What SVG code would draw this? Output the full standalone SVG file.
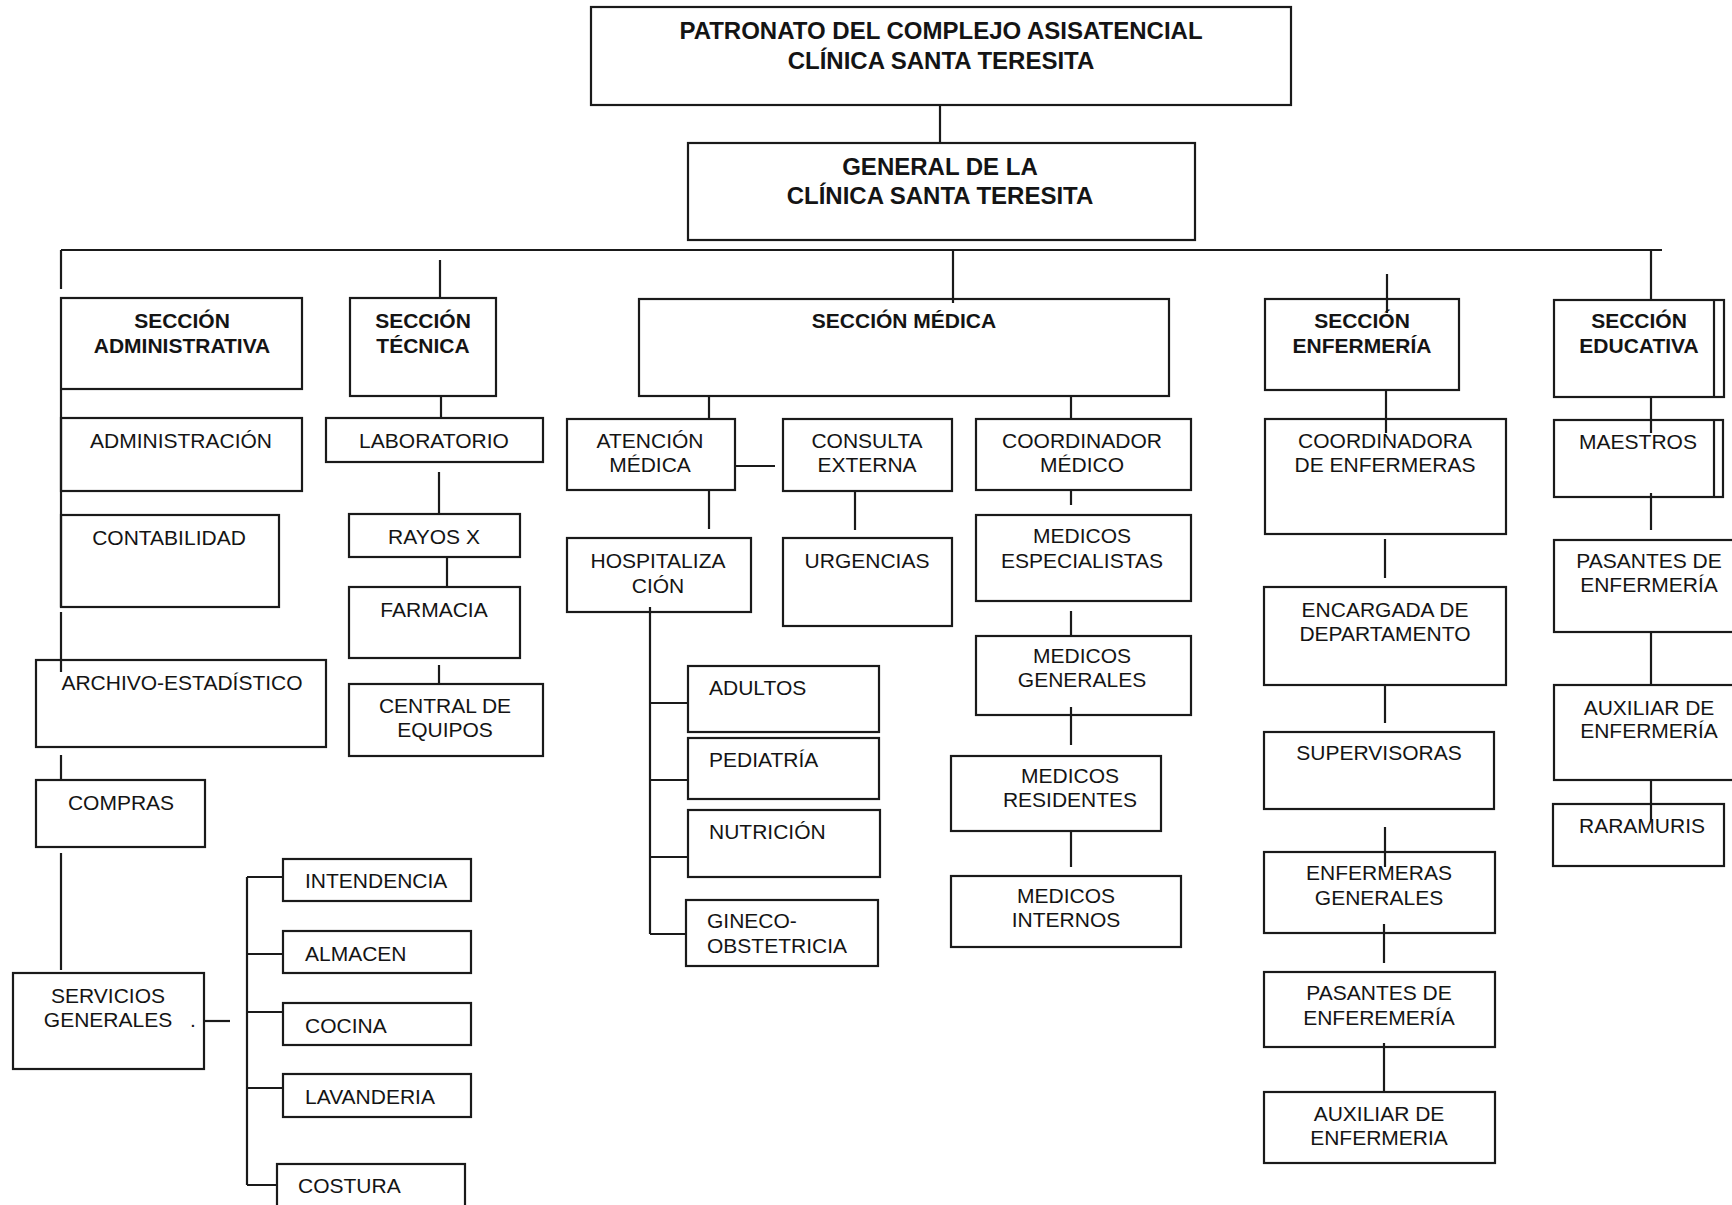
<svg xmlns="http://www.w3.org/2000/svg" width="1732" height="1205" viewBox="0 0 1732 1205">
<style>
  .bx{fill:none;stroke:#1a1a1a;stroke-width:2.2}
  .ln{fill:none;stroke:#1a1a1a;stroke-width:2.2}
  text{font-family:"Liberation Sans",Arial,sans-serif;fill:#141414}
  .t{font-size:21px;text-anchor:middle}
  .l{font-size:21px;text-anchor:start}
  .b{font-size:21px;font-weight:bold;text-anchor:middle}
  .h{font-size:24px;font-weight:bold;text-anchor:middle}
</style>
<rect width="1732" height="1205" fill="#ffffff"/>

<g id="connectors">
  <path class="ln" d="M940 105V143"/>
  <path class="ln" d="M61 250H1662"/>
  <path class="ln" d="M61 250V289"/>
  <path class="ln" d="M440 260V298"/>
  <path class="ln" d="M953 250V303"/>
  <path class="ln" d="M1387 274V313"/>
  <path class="ln" d="M1651 250V300"/>
  <!-- admin column -->
  <path class="ln" d="M61 390V607"/>
  <path class="ln" d="M61 612V672"/>
  <path class="ln" d="M61 755V780"/>
  <path class="ln" d="M61 853V970"/>
  <path class="ln" d="M204 1021H230"/>
  <path class="ln" d="M247 877V1185"/>
  <path class="ln" d="M247 877H283M247 954H283M247 1012H283M247 1088H283M247 1185H277"/>
  <!-- tecnica -->
  <path class="ln" d="M441 397V418"/>
  <path class="ln" d="M439 472V514"/>
  <path class="ln" d="M447 557V587"/>
  <path class="ln" d="M439 665V684"/>
  <!-- medica -->
  <path class="ln" d="M709 397V419"/>
  <path class="ln" d="M1071 397V419"/>
  <path class="ln" d="M735 466H775"/>
  <path class="ln" d="M855 491V530"/>
  <path class="ln" d="M709 490V529"/>
  <path class="ln" d="M650 607V934"/>
  <path class="ln" d="M650 703H688M650 780H688M650 857H688M650 934H686"/>
  <path class="ln" d="M1071 490V505"/>
  <path class="ln" d="M1071 611V635"/>
  <path class="ln" d="M1071 707V745"/>
  <path class="ln" d="M1071 831V867"/>
  <!-- enfermeria -->
  <path class="ln" d="M1386 390V433"/>
  <path class="ln" d="M1385 539V578"/>
  <path class="ln" d="M1385 685V723"/>
  <path class="ln" d="M1385 827V867"/>
  <path class="ln" d="M1384 924V963"/>
  <path class="ln" d="M1384 1043V1092"/>
  <!-- educativa -->
  <path class="ln" d="M1651 397V433"/>
  <path class="ln" d="M1651 493V530"/>
  <path class="ln" d="M1651 632V685"/>
  <path class="ln" d="M1651 780V820"/>
</g>

<g id="patronato"><rect class="bx" x="591" y="7" width="700" height="98"/>
  <text class="h" x="941" y="39">PATRONATO DEL COMPLEJO ASISATENCIAL</text>
  <text class="h" x="941" y="69">CLÍNICA SANTA TERESITA</text></g>
<g id="general"><rect class="bx" x="688" y="143" width="507" height="97"/>
  <text class="h" x="940" y="175">GENERAL DE LA</text>
  <text class="h" x="940" y="204">CLÍNICA SANTA TERESITA</text></g>

<g id="sec-admin"><rect class="bx" x="61" y="298" width="241" height="91"/>
  <text class="b" x="182" y="328">SECCIÓN</text><text class="b" x="182" y="353">ADMINISTRATIVA</text></g>
<g id="sec-tecnica"><rect class="bx" x="350" y="298" width="146" height="98"/>
  <text class="b" x="423" y="328">SECCIÓN</text><text class="b" x="423" y="353">TÉCNICA</text></g>
<g id="sec-medica"><rect class="bx" x="639" y="299" width="530" height="97"/>
  <text class="b" x="904" y="328">SECCIÓN MÉDICA</text></g>
<g id="sec-enfermeria"><rect class="bx" x="1265" y="299" width="194" height="91"/>
  <text class="b" x="1362" y="328">SECCIÓN</text><text class="b" x="1362" y="353">ENFERMERÍA</text></g>
<g id="sec-educativa"><rect class="bx" x="1554" y="300" width="170" height="97"/>
  <path class="ln" d="M1714 300V397"/>
  <text class="b" x="1639" y="328">SECCIÓN</text><text class="b" x="1639" y="353">EDUCATIVA</text></g>

<g id="administracion"><rect class="bx" x="61" y="418" width="241" height="73"/>
  <text class="t" x="181" y="448">ADMINISTRACIÓN</text></g>
<g id="contabilidad"><rect class="bx" x="61" y="515" width="218" height="92"/>
  <text class="t" x="169" y="545">CONTABILIDAD</text></g>
<g id="archivo"><rect class="bx" x="36" y="660" width="290" height="87"/>
  <text class="t" x="182" y="690">ARCHIVO-ESTADÍSTICO</text></g>
<g id="compras"><rect class="bx" x="36" y="780" width="169" height="67"/>
  <text class="t" x="121" y="810">COMPRAS</text></g>
<g id="servicios"><rect class="bx" x="13" y="973" width="191" height="96"/>
  <text class="t" x="108" y="1003">SERVICIOS</text><text class="t" x="108" y="1027">GENERALES</text>
  <text class="l" x="190" y="1027">.</text></g>
<g id="intendencia"><rect class="bx" x="283" y="859" width="188" height="42"/>
  <text class="l" x="305" y="888">INTENDENCIA</text></g>
<g id="almacen"><rect class="bx" x="283" y="931" width="188" height="42"/>
  <text class="l" x="305" y="961">ALMACEN</text></g>
<g id="cocina"><rect class="bx" x="283" y="1003" width="188" height="42"/>
  <text class="l" x="305" y="1033">COCINA</text></g>
<g id="lavanderia"><rect class="bx" x="283" y="1074" width="188" height="43"/>
  <text class="l" x="305" y="1104">LAVANDERIA</text></g>
<g id="costura"><rect class="bx" x="277" y="1164" width="188" height="50"/>
  <text class="l" x="298" y="1193">COSTURA</text></g>

<g id="laboratorio"><rect class="bx" x="326" y="418" width="217" height="44"/>
  <text class="t" x="434" y="448">LABORATORIO</text></g>
<g id="rayosx"><rect class="bx" x="349" y="514" width="171" height="43"/>
  <text class="t" x="434" y="544">RAYOS X</text></g>
<g id="farmacia"><rect class="bx" x="349" y="587" width="171" height="71"/>
  <text class="t" x="434" y="617">FARMACIA</text></g>
<g id="central"><rect class="bx" x="349" y="684" width="194" height="72"/>
  <text class="t" x="445" y="713">CENTRAL DE</text><text class="t" x="445" y="737">EQUIPOS</text></g>

<g id="atencion"><rect class="bx" x="567" y="419" width="168" height="71"/>
  <text class="t" x="650" y="448">ATENCIÓN</text><text class="t" x="650" y="472">MÉDICA</text></g>
<g id="consulta"><rect class="bx" x="783" y="419" width="169" height="72"/>
  <text class="t" x="867" y="448">CONSULTA</text><text class="t" x="867" y="472">EXTERNA</text></g>
<g id="urgencias"><rect class="bx" x="783" y="538" width="169" height="88"/>
  <text class="t" x="867" y="568">URGENCIAS</text></g>
<g id="hospitalizacion"><rect class="bx" x="567" y="538" width="184" height="74"/>
  <text class="t" x="658" y="568">HOSPITALIZA</text><text class="t" x="658" y="593">CIÓN</text></g>
<g id="adultos"><rect class="bx" x="688" y="666" width="191" height="66"/>
  <text class="l" x="709" y="695">ADULTOS</text></g>
<g id="pediatria"><rect class="bx" x="688" y="738" width="191" height="61"/>
  <text class="l" x="709" y="767">PEDIATRÍA</text></g>
<g id="nutricion"><rect class="bx" x="688" y="810" width="192" height="67"/>
  <text class="l" x="709" y="839">NUTRICIÓN</text></g>
<g id="gineco"><rect class="bx" x="686" y="900" width="192" height="66"/>
  <text class="l" x="707" y="928">GINECO-</text><text class="l" x="707" y="953">OBSTETRICIA</text></g>

<g id="coordinador"><rect class="bx" x="976" y="419" width="215" height="71"/>
  <text class="t" x="1082" y="448">COORDINADOR</text><text class="t" x="1082" y="472">MÉDICO</text></g>
<g id="especialistas"><rect class="bx" x="976" y="515" width="215" height="86"/>
  <text class="t" x="1082" y="543">MEDICOS</text><text class="t" x="1082" y="568">ESPECIALISTAS</text></g>
<g id="generales"><rect class="bx" x="976" y="636" width="215" height="79"/>
  <text class="t" x="1082" y="663">MEDICOS</text><text class="t" x="1082" y="687">GENERALES</text></g>
<g id="residentes"><rect class="bx" x="951" y="756" width="210" height="75"/>
  <text class="t" x="1070" y="783">MEDICOS</text><text class="t" x="1070" y="807">RESIDENTES</text></g>
<g id="internos"><rect class="bx" x="951" y="876" width="230" height="71"/>
  <text class="t" x="1066" y="903">MEDICOS</text><text class="t" x="1066" y="927">INTERNOS</text></g>

<g id="coordinadora"><rect class="bx" x="1265" y="419" width="241" height="115"/>
  <text class="t" x="1385" y="448">COORDINADORA</text><text class="t" x="1385" y="472">DE ENFERMERAS</text></g>
<g id="encargada"><rect class="bx" x="1264" y="587" width="242" height="98"/>
  <text class="t" x="1385" y="617">ENCARGADA DE</text><text class="t" x="1385" y="641">DEPARTAMENTO</text></g>
<g id="supervisoras"><rect class="bx" x="1264" y="732" width="230" height="77"/>
  <text class="t" x="1379" y="760">SUPERVISORAS</text></g>
<g id="enfermeras-generales"><rect class="bx" x="1264" y="852" width="231" height="81"/>
  <text class="t" x="1379" y="880">ENFERMERAS</text><text class="t" x="1379" y="905">GENERALES</text></g>
<g id="pasantes-enf"><rect class="bx" x="1264" y="972" width="231" height="75"/>
  <text class="t" x="1379" y="1000">PASANTES DE</text><text class="t" x="1379" y="1025">ENFEREMERÍA</text></g>
<g id="auxiliar-enf"><rect class="bx" x="1264" y="1092" width="231" height="71"/>
  <text class="t" x="1379" y="1121">AUXILIAR DE</text><text class="t" x="1379" y="1145">ENFERMERIA</text></g>

<g id="maestros"><rect class="bx" x="1554" y="420" width="169" height="77"/>
  <path class="ln" d="M1714 420V497"/>
  <text class="t" x="1638" y="449">MAESTROS</text></g>
<g id="pasantes-edu"><rect class="bx" x="1554" y="540" width="185" height="92"/>
  <text class="t" x="1649" y="568">PASANTES DE</text><text class="t" x="1649" y="592">ENFERMERÍA</text></g>
<g id="auxiliar-edu"><rect class="bx" x="1554" y="685" width="185" height="95"/>
  <text class="t" x="1649" y="715">AUXILIAR DE</text><text class="t" x="1649" y="738">ENFERMERÍA</text></g>
<g id="raramuris"><rect class="bx" x="1553" y="804" width="171" height="62"/>
  <text class="t" x="1642" y="833">RARAMURIS</text></g>
</svg>
